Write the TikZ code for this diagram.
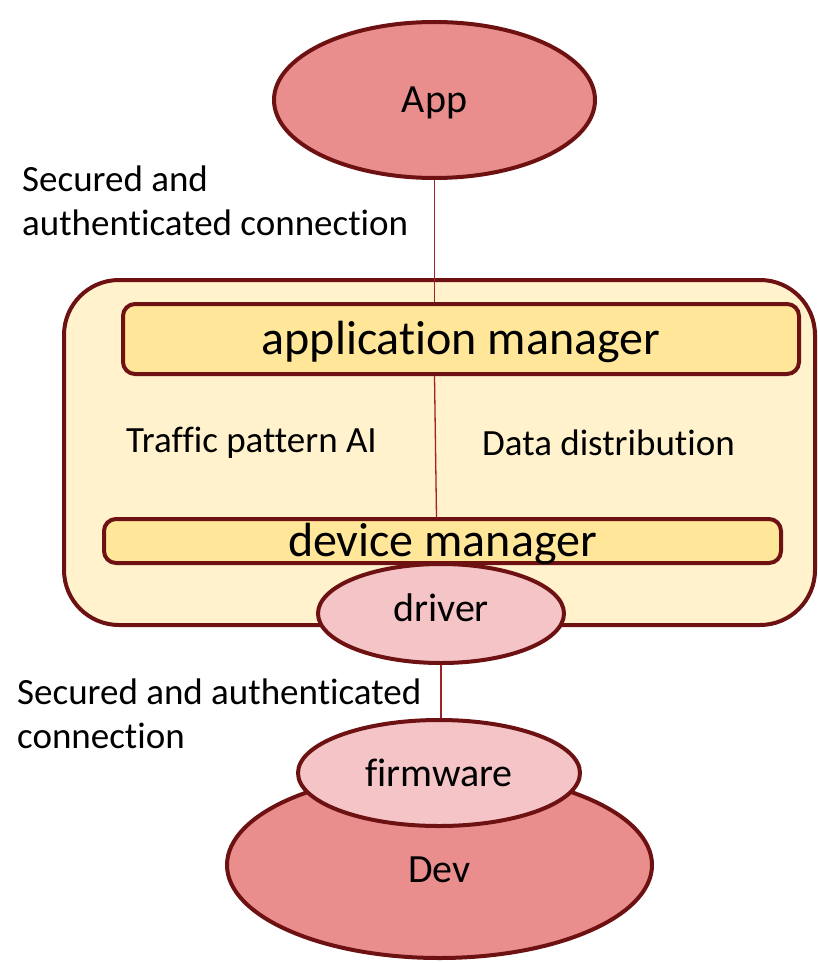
\documentclass[tikz,border=0pt]{standalone}
\usepackage{fontspec}
\setmainfont{Carlito}[RawFeature=-liga]
\usepackage{xcolor}
\usetikzlibrary{shapes.geometric, positioning}

\definecolor{edgered}{HTML}{6E1112}
\definecolor{linkred}{HTML}{9E2226}
\definecolor{rosefill}{HTML}{EA8D8D}
\definecolor{pinkfill}{HTML}{F4C4C6}
\definecolor{creamfill}{HTML}{FFF2CC}
\definecolor{goldfill}{HTML}{FFE699}

% shift text inside a node without changing the node's size
\newcommand{\nudge}[2]{\raisebox{#1}[\height][\depth]{#2}}

\begin{document}
\begin{tikzpicture}[
    x=1pt, y=-1pt,
    blob/.style={ellipse, draw=edgered, line width=4pt, inner sep=0pt, font=\fontsize{40}{46}\selectfont},
    bigblob/.style={blob, fill=rosefill},
    smallblob/.style={blob, fill=pinkfill},
    manager/.style={rectangle, rounded corners=12pt, draw=edgered, line width=4pt, fill=goldfill, inner sep=0pt, font=\fontsize{48}{54}\selectfont},
    hostbox/.style={rectangle, rounded corners=55pt, draw=edgered, line width=4pt, fill=creamfill, inner sep=0pt},
    note/.style={inner sep=0pt, align=left, font=\fontsize{37}{44}\selectfont},
    link/.style={draw=linkred, line width=1.3pt}
]
\useasboundingbox (0,0) rectangle (817,963);

% host side
\node[hostbox, minimum width=751pt, minimum height=345pt] (host) at (439.5,452.5) {};
\node[manager, minimum width=676pt, minimum height=70pt] (appmgr) at (461,339) {\nudge{-3pt}{application manager}};
\node[smallblob, minimum width=246pt, minimum height=99pt] (driver) at (441,613.5) {\nudge{6pt}{driver}};
\node[manager, minimum width=677pt, minimum height=44pt] (devmgr) at (442.5,541) {\nudge{-3pt}{device manager}};

\node[note, anchor=west] (traffic) at (126,443) {Traffic pattern AI};
\node[note, anchor=west] (distrib) at (482,443) {Data distribution};

% app and device
\node[bigblob, minimum width=321pt, minimum height=156pt] (app) at (434.5,100) {\nudge{-3pt}{App}};
\node[bigblob, minimum width=425pt, minimum height=186pt] (dev) at (439.5,865) {\nudge{-5pt}{Dev}};
\node[smallblob, minimum width=282pt, minimum height=106pt] (firmware) at (439,773) {firmware};

\node[note, anchor=west] (toplabel) at (22,201) {Secured and\\authenticated connection};
\node[note, anchor=west] (botlabel) at (17,714) {Secured and authenticated\\connection};

\draw[link] (app.south) -- (app.south |- appmgr.north);
\draw[link] (app.south |- appmgr.south) -- ([xshift=2pt]app.south |- devmgr.north);
\draw[link] (driver.south) -- (driver.south |- firmware.north);

\end{tikzpicture}
\end{document}
